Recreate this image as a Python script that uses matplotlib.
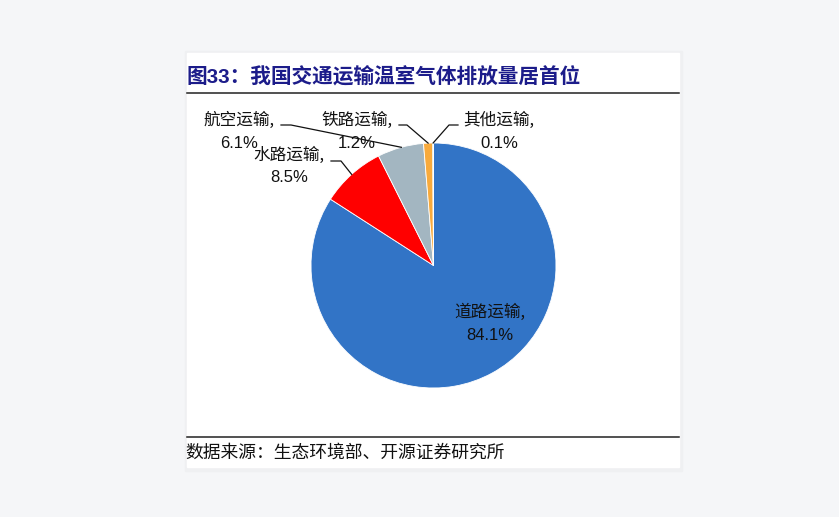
import matplotlib.pyplot as plt
from matplotlib.patches import Rectangle
import numpy as np

categories = ['道路运输', '水路运输', '航空运输', '铁路运输', '其他运输']
shares = [84.1, 8.5, 6.1, 1.2, 0.1]
colors = ['#3274C6', '#FF0000', '#A3B6C1', '#F8AA3C', '#5B9B3A']

title = '图33：我国交通运输温室气体排放量居首位'
source = '数据来源：生态环境部、开源证券研究所'

W, H = 839, 517
fig = plt.figure(figsize=(W / 100, H / 100), dpi=100)
fig.patch.set_facecolor('#F5F6F8')

def pixel_axes(z):
    a = fig.add_axes([0, 0, 1, 1])
    a.set_xlim(0, W)
    a.set_ylim(H, 0)
    a.axis('off')
    a.set_zorder(z)
    a.patch.set_alpha(0)
    return a

# white card with faint shadow
bg = pixel_axes(1)
bg.add_patch(Rectangle((185, 51), 497, 420, color='#EFF0F2', zorder=0))
bg.add_patch(Rectangle((187, 53), 492, 414, color='white', zorder=1))
bg.plot([187, 679], [93, 93], color='#222222', lw=1.1, zorder=2)
bg.plot([187, 679], [437, 437], color='#222222', lw=1.1, zorder=2)

cjk = ['Liberation Sans', 'Noto Sans CJK SC']
bg.text(186, 76, title, fontsize=14.9, fontweight='bold', color='#1C1C8A',
        family=cjk, va='center', ha='left', zorder=3)
bg.text(185, 453, source, fontsize=12.8, color='#111111', family=['Noto Sans CJK SC'],
        va='center', ha='left', zorder=3)

# pie
cx, cy, r = 433.5, 265.5, 122.5
ax = fig.add_axes([(cx - r) / W, 1 - (cy + r) / H, 2 * r / W, 2 * r / H])
ax.set_zorder(2)
wedges, _ = ax.pie(shares, colors=colors, startangle=90, counterclock=False,
                   wedgeprops=dict(edgecolor='white', linewidth=0.6))
ax.set_xlim(-1, 1)
ax.set_ylim(-1, 1)
ax.set_aspect('equal')
ax.axis('off')

def edge_px(w, frac=0.5):
    ang = np.deg2rad(w.theta1 + (w.theta2 - w.theta1) * frac)
    return cx + r * np.cos(ang), cy - r * np.sin(ang)

# labels on top of everything
top = pixel_axes(3)

label_pos = {
    '道路运输': (490, 323),
    '水路运输': (289, 166),
    '航空运输': (239, 131),
    '铁路运输': (357, 131),
    '其他运输': (499, 131),
}
leaders = {
    '水路运输': ([(331, 161), (341, 161)], 0.5),
    '航空运输': ([(281, 125), (291, 125)], 0.48),
    '铁路运输': ([(399, 125), (407, 125)], 0.5),
    '其他运输': ([(458, 125), (449, 125)], 0.5),
}

for w, cat, val in zip(wedges, categories, shares):
    lx, ly = label_pos[cat]
    top.text(lx, ly - 11, cat + ',', fontsize=12, family=['Noto Sans CJK SC'],
             ha='center', va='center', color='#111111')
    top.text(lx, ly + 12, f'{val}%', fontsize=12, family=cjk,
             ha='center', va='center', color='#111111')
    if cat in leaders:
        pts, frac = leaders[cat]
        xs, ys = zip(*(pts + [edge_px(w, frac)]))
        top.plot(xs, ys, color='#111111', lw=0.9)

fig.savefig('out.png', dpi=100, facecolor=fig.get_facecolor())
